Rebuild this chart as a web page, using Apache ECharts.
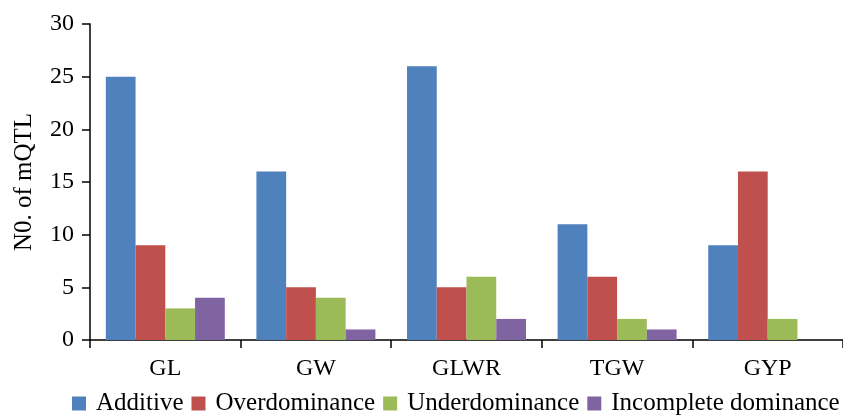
<!DOCTYPE html>
<html><head><meta charset="utf-8">
<script src="https://cdn.jsdelivr.net/npm/echarts@6/dist/echarts.min.js"></script>
<style>html,body{margin:0;padding:0;background:#fff}#c{width:843px;height:417px}</style>
</head><body><div id="c"></div>
<script>
const categories = ['GL','GW','GLWR','TGW','GYP'];
const additive = [25,16,26,11,9];
const overdominance = [9,5,5,6,16];
const underdominance = [3,4,6,2,2];
const incomplete = [4,1,2,1,0];
const seriesNames = ['Additive','Overdominance','Underdominance','Incomplete dominance'];
const colors = ['#4F81BD','#C0504D','#9BBB59','#8064A2'];
const font = 'Liberation Serif, Times New Roman, serif';
const chart = echarts.init(document.getElementById('c'));
const data = [additive, overdominance, underdominance, incomplete];
chart.setOption({
  animation:false,
  color: colors,
  textStyle:{fontFamily:font},
  grid:{left:90,right:0,top:24,bottom:77},
  legend:{bottom:1,left:72,width:820,padding:0,itemWidth:14,itemHeight:14,itemGap:8,
    textStyle:{fontFamily:font,fontSize:25,color:'#000',padding:[0,0,0,5]},icon:'rect',
    data:seriesNames},
  xAxis:{type:'category',data:categories,
    axisLine:{lineStyle:{color:'#000',width:1.5}},
    axisTick:{show:true,length:8,lineStyle:{color:'#000',width:1.5}},
    axisLabel:{fontFamily:font,fontSize:24,color:'#000',margin:17}},
  yAxis:{type:'value',min:0,max:30,interval:5,
    name:'N0. of mQTL',nameLocation:'middle',nameGap:53,
    nameTextStyle:{fontFamily:font,fontSize:25,color:'#000'},
    axisLine:{show:true,lineStyle:{color:'#000',width:1.5}},
    axisTick:{show:true,length:8,lineStyle:{color:'#000',width:1.5}},
    splitLine:{show:false},
    axisLabel:{fontFamily:font,fontSize:24,color:'#000',margin:16}},
  series: seriesNames.map((n,i)=>({name:n,type:'bar',data:data[i],
    barGap:'0%',barCategoryGap:'21%'}))
});
</script></body></html>
